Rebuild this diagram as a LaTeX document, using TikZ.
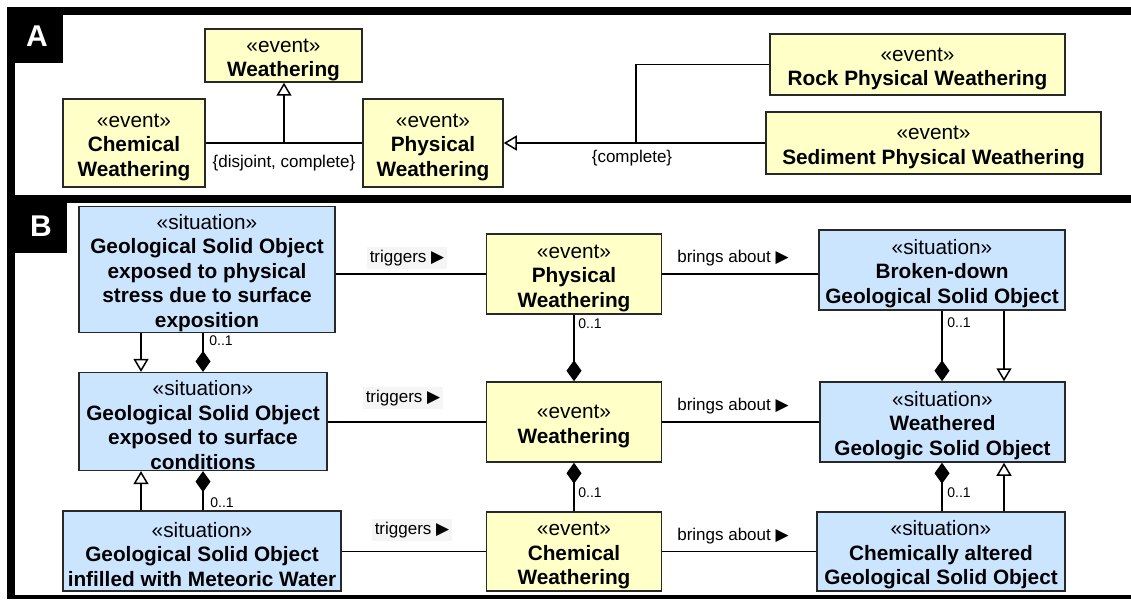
\documentclass[tikz,border=0pt]{standalone}
\usepackage{fontspec}
\setmainfont{Liberation Sans}
\newfontfamily\symfont{DejaVu Sans}
\usetikzlibrary{arrows.meta}
\definecolor{evyellow}{RGB}{255,255,200}
\definecolor{sitblue}{RGB}{204,229,255}
\definecolor{boxline}{RGB}{40,40,40}
\definecolor{lblbg}{RGB}{245,245,245}
\newcommand{\rtri}{{\symfont\fontsize{17}{19}\selectfont ▶}}
\newcommand{\stereo}[1]{\rule{0pt}{22pt}«#1»}
\tikzset{
  box/.style={draw=boxline, line width=1.5pt, inner sep=1pt, align=center, font=\fontsize{20.8}{24.5}\selectfont},
  evt/.style={box, fill=evyellow},
  sit/.style={box, fill=sitblue},
  conn/.style={line width=1.5pt, draw=black},
  gen/.style={conn, -{Triangle[fill=white, length=13pt, width=15pt, line width=1.5pt]}},
  comp/.style={conn, -{Diamond[length=21pt, width=15pt]}},
  lbl/.style={font=\fontsize{17}{20}\selectfont, inner sep=1pt},
  trig/.style={lbl, fill=lblbg, inner sep=3pt},
  mult/.style={font=\fontsize{14}{16}\selectfont, inner sep=1pt},
  tab/.style={text=white, font=\fontsize{30}{32}\selectfont\bfseries, inner sep=0pt}
}
\begin{document}
\begin{tikzpicture}[x=1pt,y=-1pt]
\useasboundingbox (0,0) rectangle (1131,599);
\fill[white] (0,0) rectangle (1131,599);
% frames
\fill[black] (7,7) rectangle (1131,15);
\fill[black] (7,7) rectangle (15,599);
\fill[black] (7,195) rectangle (1131,203);
\fill[black] (7,595) rectangle (1131,599);
\fill[black] (7,7) rectangle (63,63);
\fill[black] (7,195) rectangle (67,253);
\node[tab] (tabA) at (37,36) {A};
\node[tab] (tabB) at (41,226) {B};

% ---------- Panel A ----------
\node[evt, minimum width=157pt, minimum height=53pt] (WA) at (283.5,55.5) {\stereo{event}\\\textbf{Weathering}};
\node[evt, minimum width=142pt, minimum height=88pt] (ChA) at (134,143) {\stereo{event}\\\textbf{Chemical}\\\textbf{Weathering}};
\node[evt, minimum width=140pt, minimum height=88pt] (PhA) at (433,143) {\stereo{event}\\\textbf{Physical}\\\textbf{Weathering}};
\node[evt, minimum width=295pt, minimum height=61pt] (RoA) at (917.5,64.5) {\stereo{event}\\\textbf{Rock Physical Weathering}};
\node[evt, minimum width=335pt, minimum height=62pt] (SeA) at (933.5,143) {\stereo{event}\\\textbf{Sediment Physical Weathering}};

\coordinate (jA1) at (284,143);
\coordinate (jA2) at (636,143);
\draw[conn] (ChA.east) -- (PhA.west);
\draw[gen] (jA1) -- (WA.south -| jA1);
\draw[gen] (SeA.west) -- (PhA.east);
\draw[conn] (jA2) |- (RoA.west);
\node[lbl] (dc) at (284,163) {\{disjoint, complete\}};
\node[lbl] (cp) at (632,158) {\{complete\}};

% ---------- Panel B ----------
\node[sit, minimum width=256pt, minimum height=123pt] (S1) at (207,269.5) {\stereo{situation}\\\textbf{Geological Solid Object}\\\textbf{exposed to physical}\\\textbf{stress due to surface}\\\textbf{exposition}};
\node[sit, minimum width=248pt, minimum height=97pt] (S2) at (203,421.5) {\stereo{situation}\\\textbf{Geological Solid Object}\\\textbf{exposed to surface}\\\textbf{conditions}};
\node[sit, minimum width=278pt, minimum height=80pt] (S3) at (202,551) {\stereo{situation}\\\textbf{Geological Solid Object}\\\textbf{infilled with Meteoric Water}};

\node[evt, minimum width=175pt, minimum height=80pt] (E1) at (574,274) {\stereo{event}\\\textbf{Physical}\\\textbf{Weathering}};
\node[evt, minimum width=175pt, minimum height=80pt] (E2) at (574,422) {\stereo{event}\\\textbf{Weathering}};
\node[evt, minimum width=175pt, minimum height=79pt] (E3) at (574,551.5) {\stereo{event}\\\textbf{Chemical}\\\textbf{Weathering}};

\node[sit, minimum width=246pt, minimum height=80pt] (R1) at (942,270) {\stereo{situation}\\\textbf{Broken-down}\\\textbf{Geological Solid Object}};
\node[sit, minimum width=245pt, minimum height=80pt] (R2) at (942.5,422) {\stereo{situation}\\\textbf{Weathered}\\\textbf{Geologic Solid Object}};
\node[sit, minimum width=248pt, minimum height=79pt] (R3) at (941,551.5) {\stereo{situation}\\\textbf{Chemically altered}\\\textbf{Geological Solid Object}};

% horizontal associations
\draw[conn] (E1.west) -- (E1.west -| S1.east);
\draw[conn] (E1.east) -- (E1.east -| R1.west);
\draw[conn] (E2.west) -- (E2.west -| S2.east);
\draw[conn] (E2.east) -- (E2.east -| R2.west);
\draw[conn] (E3.west) -- (E3.west -| S3.east);
\draw[conn] (E3.east) -- (E3.east -| R3.west);

\node[trig] (t1) at (407,258) {triggers \rtri};
\node[trig] (t2) at (403,398) {triggers \rtri};
\node[trig] (t3) at (412,530) {triggers \rtri};
\node[lbl] (b1) at (733,258) {brings about \rtri};
\node[lbl] (b2) at (733,406) {brings about \rtri};
\node[lbl] (b3) at (733,536) {brings about \rtri};

% vertical connectors
\coordinate (cL1) at (141,0);
\coordinate (cL2) at (203,0);
\coordinate (cM) at (574,0);
\coordinate (cR1) at (942,0);
\coordinate (cR2) at (1004,0);

\draw[gen] (S1.south -| cL1) -- (S2.north -| cL1);
\draw[comp] (S1.south -| cL2) -- (S2.north -| cL2);
\draw[gen] (S3.north -| cL1) -- (S2.south -| cL1);
\draw[comp] (S3.north -| cL2) -- (S2.south -| cL2);

\draw[comp] (E1.south -| cM) -- (E2.north -| cM);
\draw[comp] (E3.north -| cM) -- (E2.south -| cM);

\draw[comp] (R1.south -| cR1) -- (R2.north -| cR1);
\draw[gen] (R1.south -| cR2) -- (R2.north -| cR2);
\draw[comp] (R3.north -| cR1) -- (R2.south -| cR1);
\draw[gen] (R3.north -| cR2) -- (R2.south -| cR2);

\node[mult] (m1) at (221,341) {0..1};
\node[mult] (m2) at (222,503) {0..1};
\node[mult] (m3) at (590,324) {0..1};
\node[mult] (m4) at (590,493) {0..1};
\node[mult] (m5) at (959,323) {0..1};
\node[mult] (m6) at (959,493) {0..1};
\end{tikzpicture}
\end{document}
